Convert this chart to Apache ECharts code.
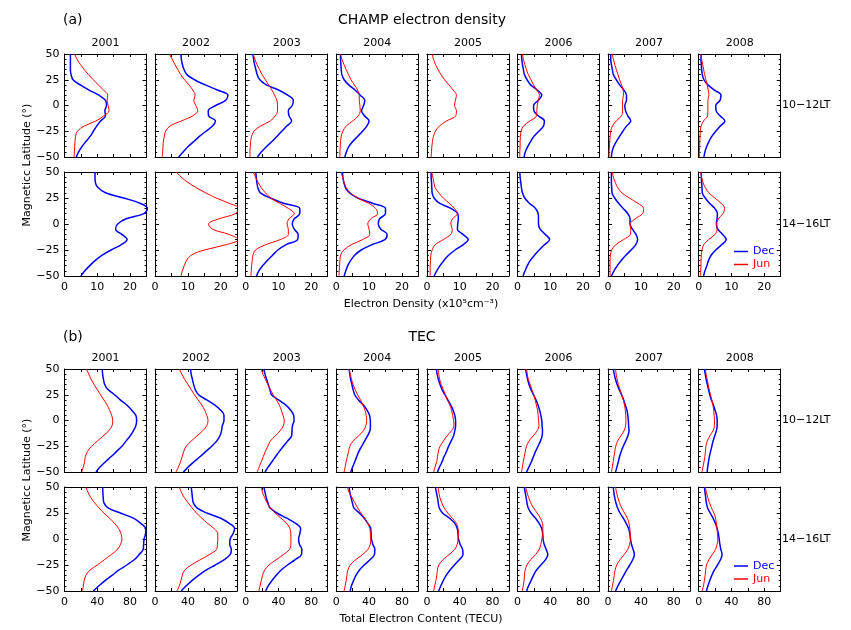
<!DOCTYPE html>
<html><head><meta charset="utf-8">
<script src="https://cdn.jsdelivr.net/npm/echarts@6/dist/echarts.min.js"></script>
<style>html,body{margin:0;padding:0;background:#fff}#c{width:851px;height:630px}</style>
</head><body><div id="c"></div>
<script>
// ---------------- data ----------------
const LAT = [50,45,40,35,30,25,20,15,10,5,0,-5,-10,-15,-20,-25,-30,-35,-40,-45,-50];
const YEARS = ['2001','2002','2003','2004','2005','2006','2007','2008'];
const LT_LABELS = ['10\u221212LT','14\u221216LT'];
const LAT_TICKS = [-50,-25,0,25,50];
const CHAMP_X_LABELS = [0,10,20];
const TEC_X_LABELS = [0,40,80];

// CHAMP electron density (x10^5 cm^-3), 10-12 LT
const champ1012Dec = [
  [1.8,1.8,1.8,1.8,2.0,2.6,4.8,7.5,10.5,12.5,12.8,12.3,12.5,11.0,9.8,8.8,7.8,6.5,5.3,4.3,3.6],
  [7.9,8.0,8.3,8.8,9.7,12.0,15.3,19.0,22.2,21.5,18.5,16.2,16.3,18.4,17.5,15.5,13.5,11.8,10.0,8.6,7.2],
  [2.2,2.4,2.7,3.1,3.5,4.3,6.3,10.0,12.8,14.5,14.2,13.0,13.2,14.0,12.5,11.0,9.5,8.0,6.3,4.8,3.6],
  [1.3,1.3,1.4,1.5,1.7,2.4,3.8,5.7,7.3,8.7,8.3,7.7,8.6,10.0,9.3,8.0,6.5,5.0,3.8,3.1,2.6],
  null,
  [1.2,1.3,1.5,1.8,2.1,2.9,4.0,6.0,7.4,6.3,4.9,5.0,6.3,8.2,7.9,6.5,5.0,4.0,3.1,2.4,2.0],
  [0.8,0.8,1.0,1.3,1.6,2.5,3.5,4.8,5.6,5.6,5.1,5.3,6.0,6.9,5.6,4.5,3.5,2.5,1.7,1.2,1.0],
  [0.7,0.7,0.8,0.9,1.1,1.6,2.8,4.8,6.8,6.5,5.2,5.3,6.5,8.0,6.6,5.2,4.0,3.1,2.4,1.9,1.6]
];
const champ1012Jun = [
  [3.1,3.8,4.8,6.0,7.3,8.8,10.3,11.9,13.2,13.0,13.3,13.6,12.0,9.6,6.0,3.9,3.4,3.2,3.1,3.0,2.9],
  [4.3,5.2,6.0,6.9,7.8,9.0,10.3,11.5,12.2,11.8,12.4,13.0,11.5,8.0,4.5,3.2,2.8,2.5,2.4,2.3,2.2],
  [2.3,2.8,3.4,4.2,5.0,6.0,7.0,8.0,8.8,9.5,9.7,9.7,9.0,7.5,4.5,2.5,1.8,1.5,1.4,1.3,1.3],
  [1.3,1.7,2.3,3.0,3.7,4.5,5.5,6.5,7.0,7.0,7.2,7.3,6.7,5.0,3.0,2.0,1.5,1.3,1.2,1.1,1.1],
  [1.6,2.0,2.6,3.4,4.3,5.4,6.7,8.0,9.0,8.7,8.4,9.0,8.8,6.0,3.8,2.6,2.0,1.7,1.5,1.4,1.3],
  [1.5,1.8,2.2,2.7,3.3,4.1,4.9,5.8,6.7,6.3,6.0,5.9,5.8,3.8,1.8,1.1,0.9,0.8,0.8,0.7,0.7],
  [1.2,1.6,2.0,2.5,3.0,3.5,4.1,4.6,4.7,4.4,4.4,4.4,4.1,2.5,1.3,0.8,0.6,0.5,0.4,0.3,0.3],
  [0.6,0.9,1.2,1.5,1.8,2.2,2.6,2.9,3.1,2.8,2.8,2.8,2.7,1.5,0.7,0.5,0.4,0.3,0.3,0.2,0.2]
];
// CHAMP electron density, 14-16 LT
const champ1416Dec = [
  [9.3,9.3,9.4,10.2,12.5,18.0,23.0,25.3,24.2,18.8,16.2,15.6,17.5,19.1,17.2,14.2,11.5,9.4,7.7,6.2,5.0],
  null,
  [3.1,3.2,3.4,3.7,4.5,7.5,11.5,16.5,16.5,14.8,14.2,14.8,16.0,15.8,12.2,9.8,8.2,6.6,5.2,4.0,3.3],
  [1.9,2.0,2.3,2.8,4.0,6.5,11.0,15.0,15.0,13.2,12.8,13.6,15.5,14.8,10.8,7.6,5.6,4.4,3.5,2.9,2.4],
  [1.3,1.3,1.4,1.5,1.6,2.2,3.8,7.3,9.4,9.6,9.4,9.3,11.0,12.6,11.0,8.6,6.6,5.2,4.0,3.0,2.2],
  [0.7,0.8,1.0,1.2,1.5,2.2,3.6,5.5,6.3,6.4,6.4,6.9,8.5,9.8,8.2,6.6,5.2,3.9,3.0,2.3,1.7],
  [1.0,1.0,1.0,1.1,1.2,2.0,3.2,4.6,6.0,6.7,6.7,7.4,8.5,9.0,8.4,7.0,5.4,4.0,2.8,1.8,1.0],
  [0.8,0.8,0.9,1.0,1.1,2.0,3.3,4.9,5.7,5.6,5.4,5.8,7.3,8.4,7.0,5.2,3.8,3.0,2.5,1.9,1.5]
];
const champ1416Jun = [
  null,
  [6.4,8.0,10.0,12.5,15.4,18.6,22.5,25.5,24.5,19.5,16.3,17.5,22.5,25.5,21.5,15.0,11.0,9.6,8.9,8.3,7.9],
  [2.3,3.0,3.8,4.7,6.0,7.6,10.3,13.0,14.8,13.2,12.6,13.0,13.0,10.5,6.0,3.0,2.2,2.0,1.8,1.7,1.6],
  [1.5,1.9,2.4,3.0,4.3,6.5,9.8,12.0,12.6,10.5,9.6,10.0,10.2,8.0,4.5,2.3,1.3,1.1,1.0,0.9,0.8],
  [1.5,1.8,2.1,2.5,3.6,5.0,6.8,8.4,9.3,7.8,7.3,7.7,7.3,5.0,2.5,1.6,1.2,1.1,1.0,1.0,1.0],
  null,
  [1.3,1.6,2.2,2.9,4.2,6.5,9.0,10.8,10.5,8.3,6.7,6.9,6.8,4.7,2.3,1.1,0.7,0.6,0.6,0.6,0.6],
  [0.6,0.9,1.3,2.0,3.1,4.9,6.8,7.9,7.4,6.0,5.5,5.6,5.0,3.0,1.5,1.0,0.8,0.7,0.7,0.6,0.6]
];
// TEC (TECU), 10-12 LT
const tec1012Dec = [
  [46,46.5,47.5,49,53,61,68,76,82,87,88,87,84,80,75,70,63.5,57,50,43.5,38.5],
  [43.2,44,45.5,47,49,53,63,73,80,84,84,82,81,79,75,69,62,55,47.5,40.5,34.5],
  [22.2,23.5,25.5,27.5,29.5,31.5,40,49,55,58.5,59,57,56.5,56,51,46,41,36.5,32,27.5,23.5],
  [15.6,16.5,17.5,19,20.5,22.5,27,33,37.5,40.5,41.5,41.6,41,38,34.5,31,27.5,25,22.5,20,17.7],
  [11.5,12.5,14,16,18.5,22,25.5,29,32,34,35,35,34,32.5,29.5,26.5,24,21,18.5,15.5,12.8],
  [9.9,11,12.3,14,16.5,19.5,22.5,25,27,28.5,29.6,30,30.5,30,28,25,22,19.5,17,14,11.1],
  [6.2,7.5,9,11,13.5,16.5,19,21,23,24,24.7,25,25.5,24,21.5,18.5,16,14,12.5,10.8,9.1],
  [7,8,9.1,10.5,12,13.5,15.5,18,20,21.8,22.5,22.5,21.5,19.5,17.5,16,14.5,13,12,11,10.3]
];
const tec1012Jun = [
  [27,29.5,32.5,36,40,44,48,52,55,57.5,58.8,58,54,47,40,33,28,25.5,24.5,23,21],
  [29.6,32.5,36,40,44,48,52.5,57,60.5,63,64.6,63,58,51,44,38,35,33,31,28.5,25.5],
  [19,21,24,27,30,33.5,37.5,41,43.5,45.5,47,46,42,36,30,27,24,21.5,19,16.5,14],
  [15.6,17,18.5,20.5,23,26,29.5,32.5,35,36.5,37,36,33,27,20.5,16.5,15,13.5,12,10.8,9.5],
  [13.6,14.5,15.5,17.5,20,22.5,25,28,30,31.5,32.5,33,30,24.5,20,16,14,13,12,10,8.2],
  [11.1,12,13.2,15.5,17.5,20,21.5,23,24.5,25.2,25.6,26.2,24,19,14,11,9.5,8.3,7,6,4.9],
  [9.1,9.8,11,12.5,14.5,16.5,18.5,20,21,21.5,21.8,21.3,19.5,15.5,11.5,9.3,8.2,7.2,6.2,5.2,4.1],
  [8.2,9,10.3,11.5,12.8,14.4,16,17.3,18.3,18.8,19.3,19.2,17.5,13.5,10.3,8.8,8.2,7.5,6.5,5.3,4.1]
];
// TEC (TECU), 14-16 LT
const tec1416Dec = [
  [46.5,46.8,47.2,48,53,68,84,93,99,99,97,96.5,96,91,85,76,66,58,49.5,42,35],
  [44,44.8,45.5,46.5,51,63,80,90.5,97,95,91.5,91,93,91.5,84,73.5,62,53,45,38,31.7],
  [22.2,23.5,25,27,29.5,38,50,61,67,66,64.5,65.5,68.5,68,60,51,43,37,32,27.5,24.3],
  [15.6,16.5,18,19.5,21.5,28,34,38.5,42,42.4,42.8,44.5,47,46.5,41,34,28,24,21,18.5,16.9],
  [10.3,11.5,12.8,13.8,15,19,27.5,34,37,38,38.5,40.5,43.5,44,39.5,33.5,28,23.5,20,17,14.4],
  [8.2,9.3,10.5,11.5,13,16.5,22,26.5,29.5,30.8,31.2,32.5,35,37,34,28.5,23,19.5,16.5,13.5,11.1],
  [6.2,7,8,9.5,11.5,14.5,18.5,22,25,26.5,27.3,28.5,30.5,32,30,26.5,22.5,19,15.5,12,9.1],
  [7,7.7,8.5,9.3,10.8,14,17.5,20.5,22.5,24,25,25.8,27,28.5,26.5,23,19,16,13.5,11.3,9.5]
];
const tec1416Jun = [
  [26,28.5,32,36.5,42,48,55,61,66,69,70,68.5,64.5,57,48.5,40,31,26,24,23,22],
  [29.6,32,35.5,40,45,50.5,57,64,72,76.5,76.5,76,75,66,55,44,36,33,31.5,29.5,26.7],
  [19,20.5,23,26,30,36,43,50,54,55,55.2,55,53.5,46,37,28.5,23,20.5,19,17.5,16],
  [13.6,15.5,19,22.5,26,30,34.5,38.5,41,41.5,42,41.5,38.5,32,23.5,17,14,13,12,10.8,9.5],
  [13.6,14.5,15.8,18,21,25.5,31,36,38,38.5,38,37,34,27,19.5,14.5,12.8,12,11,9.5,8.2],
  [9.9,11.5,13.5,16,19.5,24,28,30.5,31,30.5,29.8,28.5,26.5,22,16,11.5,9.3,8.5,8,7,5.8],
  [9.1,10.2,11.8,13.8,16.5,20,23.5,25.5,26.5,27,27.2,26.3,24,19.5,14.5,10.5,8.5,7.5,6.5,5.3,4.1],
  [8.2,9.3,11,13,15.5,18.5,20.5,21.5,22.3,23,23.3,22.5,20.5,16.5,12.5,9.5,8.5,7.8,7,5.8,4.1]
];

// ---------------- layout ----------------
const FONT = 'DejaVu Sans';
const BLUE = '#0000ff', RED = '#ff0000';
const PANEL_LEFT0 = 64.5, PANEL_DX = 90.6, PANEL_W = 82;
const ROW_TOP = [54, 172, 369, 487];
const ROW_H = [103, 104, 103, 104];
const ROWS = [
  {dec: champ1012Dec, jun: champ1012Jun, max: 25, step: 5, labels: CHAMP_X_LABELS, showX: false},
  {dec: champ1416Dec, jun: champ1416Jun, max: 25, step: 5, labels: CHAMP_X_LABELS, showX: true},
  {dec: tec1012Dec, jun: tec1012Jun, max: 100, step: 20, labels: TEC_X_LABELS, showX: false},
  {dec: tec1416Dec, jun: tec1416Jun, max: 100, step: 20, labels: TEC_X_LABELS, showX: true}
];

const minus = v => (v < 0 ? '\u2212' + Math.abs(v) : String(v));
const grid = [], xAxis = [], yAxis = [], series = [], graphic = [];
const black = {color: '#000', width: 1};

ROWS.forEach((row, r) => {
  YEARS.forEach((yr, c) => {
    const gi = grid.length;
    const left = PANEL_LEFT0 + c * PANEL_DX;
    grid.push({left: left, top: ROW_TOP[r], width: PANEL_W, height: ROW_H[r], containLabel: false});
    const xBase = {
      gridIndex: gi, type: 'value', min: 0, max: row.max, interval: row.step,
      axisLine: {show: true, onZero: false, lineStyle: black},
      axisTick: {show: true, inside: true, length: 3, lineStyle: black},
      splitLine: {show: false}
    };
    xAxis.push(Object.assign({}, xBase, {
      position: 'bottom',
      axisLabel: {
        show: row.showX, color: '#000', fontFamily: FONT, fontSize: 11, margin: 6,
        formatter: v => (row.labels.indexOf(v) >= 0 ? String(v) : '')
      }
    }));
    xAxis.push(Object.assign({}, xBase, {position: 'top', axisLabel: {show: false}}));
    const yBase = {
      gridIndex: gi, type: 'value', min: -50, max: 50, interval: 25,
      axisLine: {show: true, onZero: false, lineStyle: black},
      axisTick: {show: true, inside: true, length: 4, lineStyle: black},
      minorTick: {show: true, splitNumber: 5, length: 2, lineStyle: black},
      splitLine: {show: false}, minorSplitLine: {show: false}
    };
    yAxis.push(Object.assign({}, yBase, {
      position: 'left',
      axisLabel: {
        show: c === 0, color: '#000', fontFamily: FONT, fontSize: 11, margin: 5,
        formatter: v => (LAT_TICKS.indexOf(v) >= 0 ? minus(v) : '')
      }
    }));
    yAxis.push(Object.assign({}, yBase, {position: 'right', axisLabel: {show: false}}));

    const mk = (name, vals, color, width) => {
      if (!vals) return;
      series.push({
        type: 'line', name: name, xAxisIndex: 2 * gi, yAxisIndex: 2 * gi,
        data: LAT.map((l, i) => [vals[i], l]),
        symbol: 'none', showSymbol: false, smooth: 0.35, clip: true,
        lineStyle: {color: color, width: width}, itemStyle: {color: color},
        animation: false, silent: true
      });
    };
    mk('Dec', row.dec[c], BLUE, 1.5);
    mk('Jun', row.jun[c], RED, 1);

    if (r === 0 || r === 2) {
      graphic.push({type: 'text', x: left + PANEL_W / 2, y: ROW_TOP[r] - 11,
        style: {text: yr, font: '11px ' + FONT, fill: '#000', align: 'center', verticalAlign: 'middle'}});
    }
  });
  graphic.push({type: 'text', x: 782, y: ROW_TOP[r] + ROW_H[r] / 2,
    style: {text: LT_LABELS[r % 2], font: '11px ' + FONT, fill: '#000', align: 'left', verticalAlign: 'middle'}});
});

const TXT = (x, y, text, size, align, rot) => ({
  type: 'text', x: x, y: y, rotation: rot || 0,
  style: {text: text, font: size + 'px ' + FONT, fill: '#000', align: align, verticalAlign: 'middle'}
});
graphic.push(TXT(63, 20, '(a)', 14, 'left'));
graphic.push(TXT(422, 20, 'CHAMP electron density', 14, 'center'));
graphic.push(TXT(63, 337, '(b)', 14, 'left'));
graphic.push(TXT(422, 337, 'TEC', 14, 'center'));
graphic.push(TXT(421, 304, 'Electron Density (x10\u2075cm\u207B\u00B3)', 11, 'center'));
graphic.push(TXT(421, 619, 'Total Electron Content (TECU)', 11, 'center'));
graphic.push(TXT(27, 165, 'Magneticc Latitude (\u00B0)', 11, 'center', Math.PI / 2));
graphic.push(TXT(27, 480, 'Magneticc Latitude (\u00B0)', 11, 'center', Math.PI / 2));

const legendItem = (top) => ({
  orient: 'vertical', left: 729, top: top, itemWidth: 14, itemHeight: 13, itemGap: 2, itemTextGap: 6,
  selectedMode: false, icon: 'path://M0,6 L14,6 L14,7.5 L0,7.5 Z',
  textStyle: {fontFamily: FONT, fontSize: 11},
  data: [
    {name: 'Dec', textStyle: {color: BLUE}, itemStyle: {color: BLUE}},
    {name: 'Jun', textStyle: {color: RED}, itemStyle: {color: RED}}
  ]
});

const chart = echarts.init(document.getElementById('c'), null, {renderer: 'canvas'});
chart.setOption({
  animation: false,
  backgroundColor: '#fff',
  textStyle: {fontFamily: FONT},
  grid: grid, xAxis: xAxis, yAxis: yAxis, series: series,
  legend: [legendItem(241), legendItem(555.5)],
  graphic: graphic
});
</script></body></html>
